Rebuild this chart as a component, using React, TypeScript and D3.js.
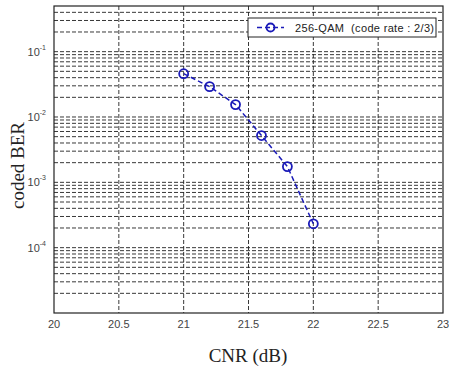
import React from "react";
import * as d3 from "d3";

const cnr = [21, 21.2, 21.4, 21.6, 21.8, 22];
const ber = [0.046, 0.0291, 0.0155, 0.0052, 0.00174, 0.000232];
const xTicks = [20, 20.5, 21, 21.5, 22, 22.5, 23];
const xTickLabels = ["20", "20.5", "21", "21.5", "22", "22.5", "23"];
const yDecades = [-1, -2, -3, -4];
const seriesName = "256-QAM\u00a0\u00a0(code rate : 2/3)";

const W = 449, H = 370;
const L = 54, R = 443, T = 6, B = 313;

export default function App() {
  const x = d3.scaleLinear().domain([20, 23]).range([L, R]);
  const y = d3.scaleLog().domain([1e-5, 0.5]).range([B, T]);
  const minor: number[] = [];
  for (let e = -5; e <= -1; e++) {
    for (let m = 1; m <= 9; m++) {
      const v = m * Math.pow(10, e);
      if (v > 1e-5 && v < 0.5) minor.push(v);
    }
  }
  const line = d3.line<number>().x((_, i) => x(cnr[i])).y((d) => y(d));
  const dash = "4,2";
  return (
    <svg width={W} height={H} style={{ position: "absolute", left: 0, top: 0, background: "#fff" }}>
      <rect x={0} y={0} width={W} height={H} fill="#fff" />
      {minor.map((v, i) => (
        <line key={"h" + i} x1={L} x2={R} y1={y(v)} y2={y(v)} stroke="#222" strokeWidth={0.9} strokeDasharray={dash} />
      ))}
      {xTicks.slice(1, -1).map((v, i) => (
        <line key={"v" + i} x1={x(v)} x2={x(v)} y1={T} y2={B} stroke="#222" strokeWidth={0.9} strokeDasharray={dash} />
      ))}
      <rect x={L} y={T} width={R - L} height={B - T} fill="none" stroke="#222" strokeWidth={1.2} />
      {xTicks.map((v, i) => (
        <text key={"xt" + i} x={x(v)} y={B + 15} textAnchor="middle" fontFamily="Liberation Sans, Arial" fontSize={11} fill="#444">
          {xTickLabels[i]}
        </text>
      ))}
      {yDecades.map((e, i) => (
        <text key={"yt" + i} x={L - 8} y={y(Math.pow(10, e)) + 4} textAnchor="end" fontFamily="Liberation Sans, Arial" fontSize={11} fill="#444">
          10
          <tspan dy={-6} fontSize={7}>{"-" + Math.abs(e)}</tspan>
        </text>
      ))}
      <path d={line(ber) || ""} fill="none" stroke="#1a1ab8" strokeWidth={1.5} strokeDasharray="5,3" />
      {ber.map((v, i) => (
        <circle key={"p" + i} cx={x(cnr[i])} cy={y(v)} r={4.5} fill="none" stroke="#1a1ab8" strokeWidth={1.8} />
      ))}
      <rect x={248} y={18} width={188} height={19} fill="#fff" stroke="#222" strokeWidth={1} />
      <line x1={257} x2={284} y1={27.5} y2={27.5} stroke="#1a1ab8" strokeWidth={1.5} strokeDasharray="5,3" />
      <circle cx={270.5} cy={27.5} r={4} fill="none" stroke="#1a1ab8" strokeWidth={1.8} />
      <text x={295} y={31.5} fontFamily="Liberation Sans, Arial" fontSize={11} fill="#222" textLength={139} lengthAdjust="spacing">{seriesName}</text>
      <text transform={`translate(24,${(T + B) / 2 + 6}) rotate(-90)`} textAnchor="middle" fontFamily="Liberation Serif, Times New Roman" fontSize={19} fill="#222">
        coded BER
      </text>
      <text x={248} y={362} textAnchor="middle" fontFamily="Liberation Serif, Times New Roman" fontSize={19} fill="#222">
        CNR (dB)
      </text>
    </svg>
  );
}
